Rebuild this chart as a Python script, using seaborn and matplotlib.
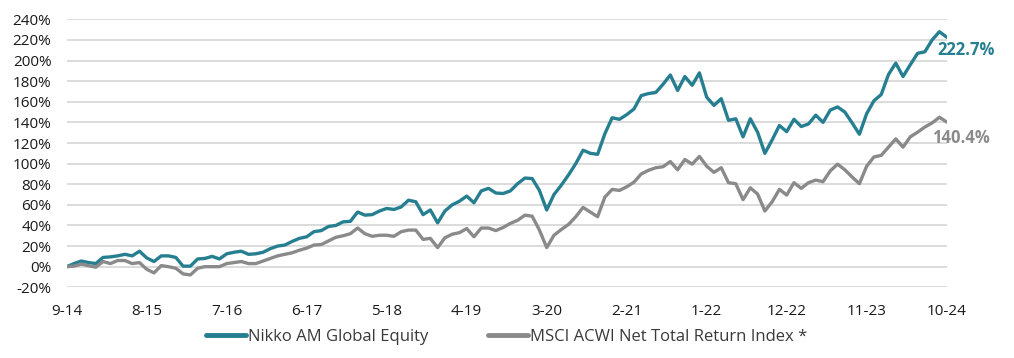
import pandas as pd
import numpy as np
import matplotlib
matplotlib.use("Agg")
import matplotlib.pyplot as plt
import seaborn as sns

# ── DATA (cumulative return, %, monthly from 9-14 to 10-24) ──────────
nikko = [
    0, 3, 5.5, 4, 3, 9, 9.5, 10.5, 12, 10.5,
    15, 8.5, 5, 10.5, 10.5, 9, 0.5, 0.5, 7.5, 8,
    10, 7.5, 12.5, 14, 15, 12, 12.5, 14, 17.5, 20,
    21, 24.5, 27.5, 29, 34, 35, 39, 40, 43.5, 44,
    53, 50, 50.5, 54, 56.5, 55.5, 58, 64.5, 63, 50.5,
    55, 42.5, 54, 60, 63.5, 68.5, 62, 73.5, 76, 71.5,
    71, 73.5, 80.5, 86, 85.5, 74, 55, 70, 79, 89,
    100, 113, 110, 109, 129, 144.5, 143, 147.5, 153, 166,
    168, 169, 177, 186, 171, 184.5, 176, 188, 164.5, 156.5,
    163, 142, 143.5, 126, 143.5, 130.5, 110, 123, 137, 131,
    143, 136, 138.5, 147, 140, 152, 155, 150, 139.5, 128.5,
    148.5, 161, 167, 186.5, 197.5, 184.5, 196, 207, 208.5, 220,
    228, 222.7,
]
msci = [
    0, 0.5, 2.5, 1, -0.5, 5, 3, 6, 6, 3,
    4, -2.5, -6, 1, 0, -1.5, -7, -8, -1.5, 0,
    0, 0, 3, 4, 5, 3, 3, 5.5, 8, 10.5,
    12, 13.5, 16, 18, 21, 21.5, 25, 28.5, 30, 32,
    37.5, 32, 29.5, 30.5, 30.5, 29.5, 34, 35.5, 35.5, 26.5,
    27.5, 18.5, 28, 31.5, 33, 37, 29, 37.5, 37.5, 35,
    38, 42, 45, 50, 49, 35.5, 18.5, 30.5, 36, 41,
    48.5, 57.5, 53, 48.5, 67.5, 75, 74, 77.5, 82, 90,
    93.5, 96, 97, 102, 94, 104, 99.5, 107, 97.5, 91.5,
    96, 81.5, 80.5, 65, 76.5, 70.5, 54, 63, 75, 69.5,
    81.5, 76, 81.5, 84, 82.5, 93, 99.5, 94, 87, 80.5,
    97.5, 106.5, 108, 116, 124, 116, 126, 130.5, 135.5, 139.5,
    145, 140.4,
]
tick_labels = ["9-14", "8-15", "7-16", "6-17", "5-18", "4-19",
               "3-20", "2-21", "1-22", "12-22", "11-23", "10-24"]
series_names = ["Nikko AM Global Equity", "MSCI ACWI Net Total Return Index *"]
end_labels = ["222.7%", "140.4%"]

TEAL = "#267f91"
GREY = "#8a8a8a"

# ── STYLE ────────────────────────────────────────────────────
sns.set_theme(style="white")
plt.rcParams["font.family"] = ["Open Sans", "DejaVu Sans"]

months = np.arange(len(nikko))
df = pd.DataFrame({
    "month": np.concatenate([months, months]),
    "value": nikko + msci,
    "series": [series_names[0]] * len(nikko) + [series_names[1]] * len(msci),
})

fig = plt.figure(figsize=(10.14, 3.58), dpi=100)
ax = fig.add_axes([0.0658, 0.1975, 0.8678, 0.7485])

sns.lineplot(data=df, x="month", y="value", hue="series",
             palette=[TEAL, GREY], linewidth=2.4, ax=ax, zorder=3)

ax.set_xlim(0, len(nikko) - 1)
ax.set_ylim(-20, 240)
ax.set_yticks(np.arange(-20, 241, 20))
ax.set_yticklabels([f"{v}%" for v in range(-20, 241, 20)])
ax.set_xticks(np.arange(0, len(nikko), 11))
ax.set_xticklabels(tick_labels)
ax.tick_params(axis="both", length=0, labelsize=11, colors="#1a1a1a")
ax.tick_params(axis="y", pad=11)
ax.tick_params(axis="x", pad=12)
ax.grid(axis="y", color="#d9d9d9", linewidth=1.3)
ax.set_axisbelow(True)
for s in ax.spines.values():
    s.set_visible(False)
ax.set_xlabel("")
ax.set_ylabel("")

# end-of-line value labels
last = len(nikko) - 1
ax.annotate(end_labels[0], (last, nikko[-1]), xytext=(14, -9.5),
            textcoords="offset points", ha="center", va="center",
            fontsize=12, fontweight="bold", color=TEAL, annotation_clip=False)
ax.annotate(end_labels[1], (last, msci[-1]), xytext=(10.5, -11.5),
            textcoords="offset points", ha="center", va="center",
            fontsize=12, fontweight="bold", color=GREY, annotation_clip=False)

leg = ax.legend(loc="upper center", bbox_to_anchor=(0.5, -0.098), ncol=2,
                frameon=False, fontsize=12, handlelength=2.4,
                handletextpad=0.1, columnspacing=3.6)
for line in leg.get_lines():
    line.set_linewidth(3.5)
for t in leg.get_texts():
    t.set_color("#3a3a3a")

fig.savefig("out.png", dpi=100)
